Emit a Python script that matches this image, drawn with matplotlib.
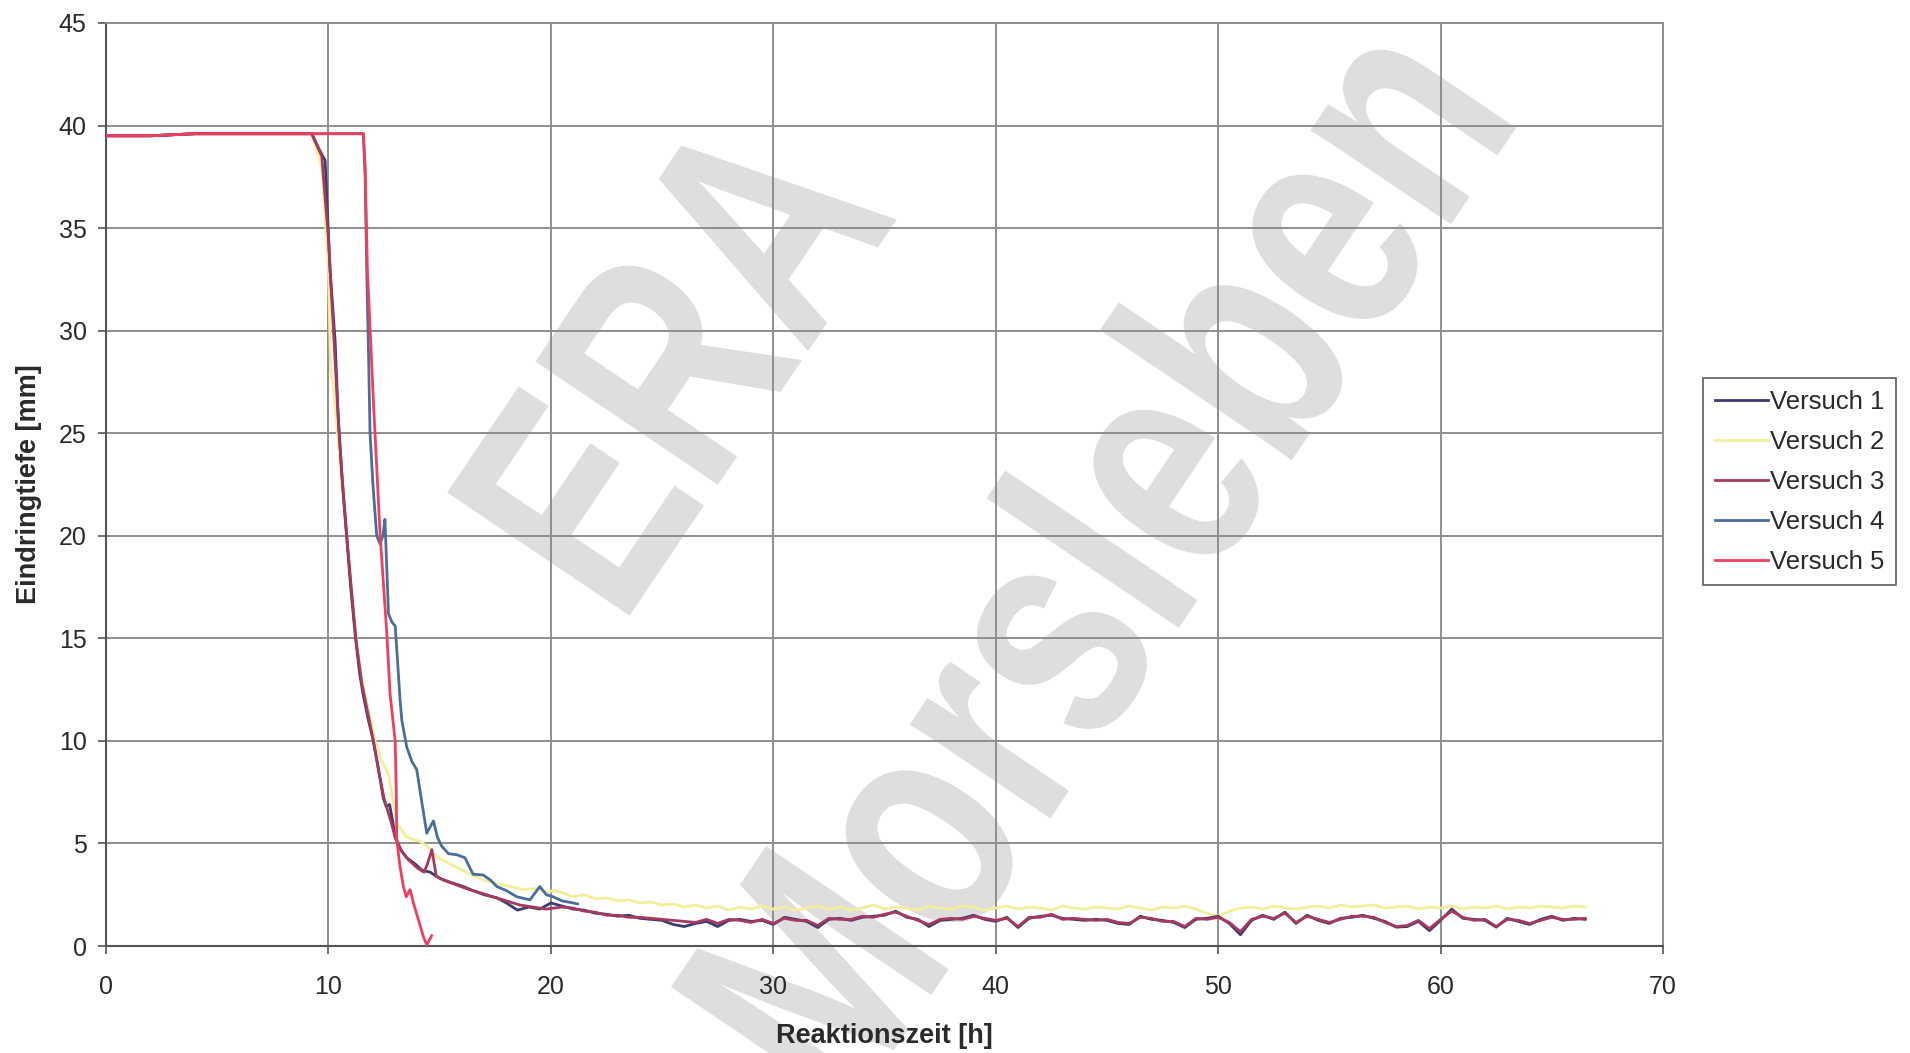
import numpy as np
import matplotlib.pyplot as plt
from matplotlib.textpath import TextPath
from matplotlib.patches import PathPatch
from matplotlib.font_manager import FontProperties
from matplotlib.transforms import Affine2D

plt.rcParams['font.family'] = ['Liberation Sans', 'DejaVu Sans']

# plateau before the reaction starts
flat_t = [0, 2, 4, 6, 8, 9.25]
flat_v = [39.5, 39.5, 39.6, 39.6, 39.6, 39.6]
flat_late_t = [0, 2, 4, 6, 8, 10, 11.57]
flat_late_v = [39.5, 39.5, 39.6, 39.6, 39.6, 39.6, 39.6]

# long tail sampled every 0.5 h from 20.5 to 66.5 h
tail_t = np.arange(20.5, 66.51, 0.5)

# Versuch 1
v1_drop_t = [9.6, 9.85, 10.07, 10.3, 10.45, 10.65, 10.82, 11.0, 11.2, 11.4,
             11.57, 11.8, 12.02, 12.25, 12.47, 12.6, 12.75, 12.9, 13.0, 13.25,
             13.52, 13.9, 14.2, 14.57, 15.0, 15.5, 16.07, 16.5, 17.0, 17.57,
             18.0, 18.5, 19.0, 19.5, 20.0]
v1_drop_v = [38.8, 38.3, 33.0, 29.5, 25.5, 22.3, 20.0, 17.5, 15.2, 13.3,
             12.2, 11.0, 10.0, 8.6, 7.2, 6.8, 6.9, 6.0, 5.3, 4.7,
             4.3, 4.0, 3.7, 3.6, 3.3, 3.1, 2.9, 2.7, 2.5, 2.35,
             2.1, 1.75, 1.9, 1.8, 2.1]
v1_tail = [1.95, 1.8, 1.75, 1.6, 1.55, 1.45, 1.5, 1.35, 1.3, 1.25,
           1.05, 0.95, 1.1, 1.2, 0.95, 1.25, 1.3, 1.2, 1.25, 1.05,
           1.4, 1.3, 1.2, 0.9, 1.3, 1.35, 1.25, 1.4, 1.45, 1.5,
           1.7, 1.4, 1.3, 0.95, 1.25, 1.3, 1.35, 1.5, 1.3, 1.2,
           1.4, 0.9, 1.35, 1.45, 1.5, 1.35, 1.3, 1.25, 1.3, 1.25,
           1.1, 1.05, 1.45, 1.3, 1.25, 1.15, 0.9, 1.3, 1.35, 1.45,
           1.1, 0.55, 1.25, 1.5, 1.3, 1.65, 1.1, 1.5, 1.25, 1.1,
           1.35, 1.4, 1.5, 1.35, 1.2, 0.92, 0.95, 1.2, 0.75, 1.25,
           1.8, 1.35, 1.3, 1.25, 0.92, 1.35, 1.2, 1.05, 1.3, 1.45,
           1.25, 1.35, 1.3]

# Versuch 2
v2_drop_t = [9.7, 10.0, 10.1, 10.2, 10.4, 10.6, 10.8, 11.0, 11.25, 11.5,
             11.8, 12.1, 12.4, 12.7, 13.07, 13.52, 14.12, 14.5, 14.87, 15.47,
             16.37, 17.0, 17.57, 18.2, 18.76, 19.3, 19.8, 20.1]
v2_drop_v = [38.0, 33.0, 28.0, 27.5, 25.0, 22.5, 20.0, 17.5, 15.0, 13.0,
             11.5, 10.0, 9.0, 8.4, 6.0, 5.3, 5.1, 4.8, 4.35, 4.0,
             3.5, 3.2, 3.05, 2.9, 2.75, 2.8, 2.6, 2.7]
v2_tail = [2.6, 2.4, 2.5, 2.3, 2.35, 2.2, 2.25, 2.1, 2.15, 2.0,
           2.05, 1.9, 2.0, 1.85, 1.95, 1.75, 1.9, 1.8, 1.95, 1.8,
           1.9, 1.75, 1.85, 1.95, 1.8, 1.9, 1.75, 1.85, 2.0, 1.8,
           1.9, 1.85, 1.75, 1.95, 1.85, 1.8, 1.95, 1.9, 1.75, 1.85,
           1.95, 1.8, 1.9, 1.85, 1.75, 1.95, 1.85, 1.8, 1.9, 1.85,
           1.8, 1.95, 1.85, 1.75, 1.9, 1.85, 1.95, 1.8, 1.6, 1.45,
           1.7, 1.85, 1.9, 1.8, 1.95, 1.85, 1.8, 1.9, 1.95, 1.85,
           2.0, 1.9, 1.95, 2.0, 1.85, 1.9, 1.95, 1.8, 1.9, 1.85,
           1.95, 1.8, 1.9, 1.85, 1.95, 1.8, 1.9, 1.85, 1.95, 1.9,
           1.85, 1.95, 1.9]

# Versuch 3
v3_drop_t = [9.7, 10.0, 10.2, 10.4, 10.6, 10.8, 11.0, 11.25, 11.5, 11.8,
             12.0, 12.3, 12.5, 12.8, 13.0, 13.3, 13.6, 14.0, 14.3, 14.45,
             14.65, 14.85, 15.2, 15.7, 16.2, 16.8, 17.4, 18.0, 18.6, 19.2, 19.8]
v3_drop_v = [38.5, 34.5, 30.5, 26.5, 23.0, 20.3, 17.8, 14.8, 12.8, 11.2,
             10.1, 8.3, 7.2, 6.1, 5.3, 4.6, 4.2, 3.8, 3.6, 4.0,
             4.7, 3.4, 3.2, 3.0, 2.8, 2.6, 2.4, 2.2, 2.0, 1.9, 1.8]
v3_tail = [1.9, 1.85, 1.7, 1.65, 1.5, 1.5, 1.4, 1.4, 1.35, 1.3,
           1.25, 1.2, 1.15, 1.3, 1.1, 1.3, 1.25, 1.15, 1.3, 1.1,
           1.35, 1.25, 1.25, 1.0, 1.35, 1.3, 1.3, 1.45, 1.4, 1.55,
           1.65, 1.45, 1.25, 1.05, 1.3, 1.35, 1.3, 1.45, 1.35, 1.25,
           1.35, 0.95, 1.4, 1.4, 1.55, 1.3, 1.35, 1.3, 1.25, 1.3,
           1.15, 1.1, 1.4, 1.35, 1.2, 1.2, 0.95, 1.35, 1.3, 1.4,
           1.15, 0.7, 1.3, 1.45, 1.35, 1.6, 1.15, 1.45, 1.3, 1.15,
           1.3, 1.45, 1.45, 1.4, 1.15, 0.95, 1.0, 1.25, 0.85, 1.3,
           1.7, 1.4, 1.25, 1.3, 0.95, 1.3, 1.25, 1.1, 1.25, 1.4,
           1.3, 1.3, 1.35]

# Versuch 4 (stops at ~21 h)
v4_drop_t = [11.65, 11.72, 11.8, 11.87, 12.0, 12.17, 12.32, 12.45, 12.54, 12.62,
             12.7, 12.85, 13.0, 13.1, 13.22, 13.3, 13.52, 13.75, 13.97, 14.2,
             14.42, 14.72, 14.9, 15.1, 15.4, 15.77, 16.14, 16.5, 16.96, 17.3,
             17.57, 18.0, 18.47, 19.06, 19.5, 19.8, 20.1, 20.5, 21.0, 21.2]
v4_drop_v = [37.5, 33.0, 29.0, 25.0, 22.5, 20.0, 19.6, 20.0, 20.8, 18.5,
             16.2, 15.8, 15.6, 14.0, 12.0, 11.0, 9.7, 9.0, 8.6, 7.0,
             5.5, 6.1, 5.3, 4.85, 4.5, 4.45, 4.3, 3.5, 3.46, 3.2,
             2.9, 2.7, 2.4, 2.25, 2.9, 2.5, 2.4, 2.2, 2.1, 2.05]

# Versuch 5 (stops at ~14.6 h)
v5_drop_t = [11.65, 11.75, 11.9, 12.02, 12.32, 12.62, 12.77, 12.9, 13.0, 13.05,
             13.07, 13.2, 13.37, 13.5, 13.67, 13.82, 14.04, 14.27, 14.42, 14.64]
v5_drop_v = [38.0, 33.0, 29.5, 26.6, 20.1, 15.3, 12.3, 11.0, 10.0, 7.5,
             5.2, 4.0, 2.9, 2.4, 2.75, 2.1, 1.3, 0.45, 0.05, 0.5]

labels = ['Versuch 1', 'Versuch 2', 'Versuch 3', 'Versuch 4', 'Versuch 5']
colors = ['#3d3b6e', '#f3ee9a', '#a5395f', '#4a6d9c', '#ee3f60']

series = [
    (np.concatenate([flat_t, v1_drop_t, tail_t]), np.concatenate([flat_v, v1_drop_v, v1_tail])),
    (np.concatenate([flat_t, v2_drop_t, tail_t]), np.concatenate([flat_v, v2_drop_v, v2_tail])),
    (np.concatenate([flat_t, v3_drop_t, tail_t]), np.concatenate([flat_v, v3_drop_v, v3_tail])),
    (np.concatenate([flat_late_t, v4_drop_t]), np.concatenate([flat_late_v, v4_drop_v])),
    (np.concatenate([flat_late_t, v5_drop_t]), np.concatenate([flat_late_v, v5_drop_v])),
]

fig = plt.figure(figsize=(19.1, 10.53), dpi=100)
ax = fig.add_axes([0.0555, 0.1016, 0.8152, 0.8766])
ax.patch.set_visible(False) #let the watermark behind the axes show through

#function: put a condensed, rotated grey word behind the chart (scan watermark)
#parameters: word - string, cx, cy - centre in figure pixels, size - em in pixels, sx - horizontal squeeze, angle - degrees
#returns: nothing
def watermark(word, cx, cy, size, sx, angle):
    fp = FontProperties(family='Liberation Sans', weight='bold')
    tp = TextPath((0, 0), word, size=size, prop=fp)
    ext = tp.get_extents()
    tr = (Affine2D().translate(-(ext.x0 + ext.x1) / 2, -(ext.y0 + ext.y1) / 2)
          .scale(sx, 1).rotate_deg(angle).translate(cx, cy).scale(1 / 100.0)
          + fig.dpi_scale_trans)
    patch = PathPatch(tp, transform=tr, facecolor='#dedede', edgecolor='none', zorder=-1)
    fig.add_artist(patch)

watermark('ERA', 672, 697, 320, 0.74, 56)
watermark('Morsleben', 1090, 498, 320, 0.76, 56)

ax.set_xlim(0, 70)
ax.set_ylim(0, 45)
ax.set_xticks(range(0, 71, 10))
ax.set_yticks(range(0, 46, 5))
ax.grid(True, color='#8e8e8e', linewidth=1.4)
ax.set_axisbelow(True)

# draw order: yellow first, red last so it sits on the plateau like in the scan
order = [1, 3, 0, 2, 4]
lines = {}
for i in order:
    t, v = series[i]
    lines[i], = ax.plot(t, v, color=colors[i], linewidth=2.0, label=labels[i], zorder=3)

for side in ['left', 'bottom']:
    ax.spines[side].set_color('#555555')
    ax.spines[side].set_linewidth(1.5)
for side in ['top', 'right']:
    ax.spines[side].set_color('#8e8e8e')
    ax.spines[side].set_linewidth(1.4)

ax.tick_params(direction='out', length=6, width=1.2, color='#555555',
               labelsize=18, labelcolor='#2a2a2a', pad=8)
ax.tick_params(axis='x', pad=15)
ax.set_xlabel('Reaktionszeit [h]', fontsize=19.5, fontweight='bold', color='#2a2a2a', labelpad=17)
ax.set_ylabel('Eindringtiefe [mm]', fontsize=19.5, fontweight='bold', color='#2a2a2a', labelpad=12)

leg = ax.legend([lines[i] for i in range(5)], labels, loc='center left',
                bbox_to_anchor=(0.8916, 0.5425), bbox_transform=fig.transFigure,
                fontsize=18.5, frameon=True, fancybox=False, handlelength=2.1,
                handletextpad=0.05, labelspacing=0.62, borderpad=0.45, borderaxespad=0)
leg.get_frame().set_edgecolor('#333333')
leg.get_frame().set_linewidth(1.2)
for txt in leg.get_texts():
    txt.set_color('#2a2a2a')

fig.savefig('out.png', dpi=100)
